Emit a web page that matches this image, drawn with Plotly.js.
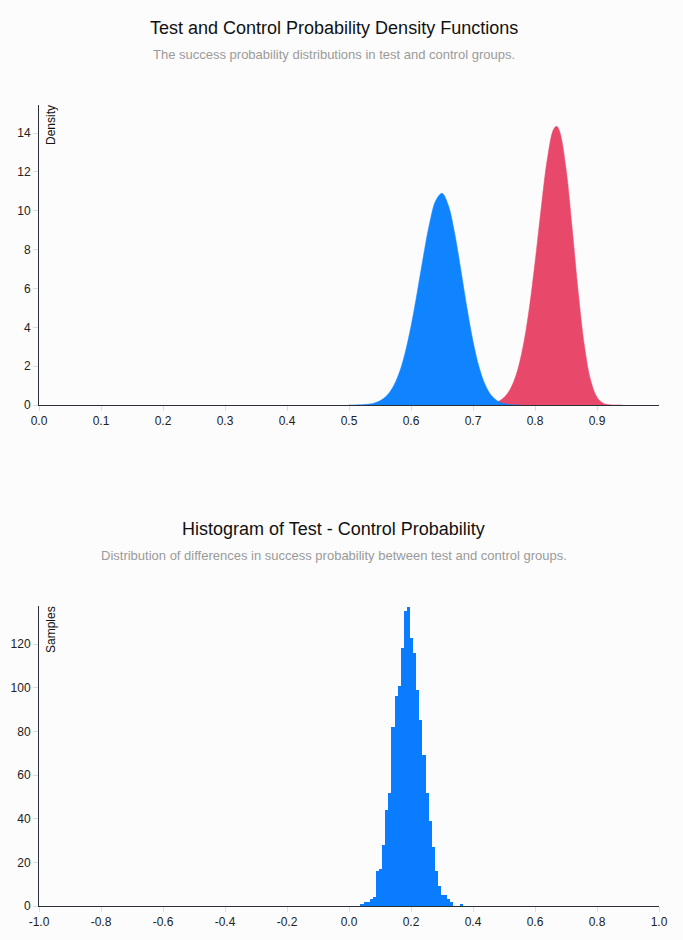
<!DOCTYPE html>
<html>
<head>
<meta charset="utf-8">
<script src="https://cdn.plot.ly/plotly-3.0.1.min.js"></script>
<style>
  html, body { margin: 0; padding: 0; background: #fcfcfc; }
  #chart { width: 683px; height: 940px; }
</style>
</head>
<body>
<div id="chart"></div>
<script>
// ---- Data ----
// Control group success probability density (blue)
const controlX = [0.50,0.51,0.52,0.53,0.54,0.55,0.56,0.57,0.58,0.59,0.60,0.61,0.62,0.63,0.64,0.65,0.66,0.67,0.68,0.69,0.70,0.71,0.72,0.73,0.74,0.75,0.76,0.77,0.78];
const controlDensity = [0.002,0.005,0.015,0.039,0.095,0.215,0.449,0.873,1.571,2.620,4.050,5.793,7.661,9.355,10.53,10.90,10.30,8.911,7.035,5.051,3.284,1.925,1.013,0.475,0.197,0.072,0.023,0.006,0];

// Test group success probability density (red)
const testX = [0.70,0.71,0.72,0.73,0.74,0.75,0.76,0.77,0.78,0.79,0.80,0.81,0.82,0.83,0.835,0.84,0.85,0.86,0.87,0.88,0.89,0.90,0.91,0.92,0.93,0.94];
const testDensity = [0.003,0.010,0.026,0.069,0.168,0.383,0.810,1.591,2.884,4.805,7.324,10.15,12.69,14.20,14.35,14.06,12.18,9.083,5.728,2.983,1.245,0.401,0.095,0.015,0.002,0];

// Histogram of test - control differences (bin centres, counts)
const diffBinCenters = [0.022,0.032,0.042,0.052,0.062,0.072,0.082,0.092,0.102,0.112,0.122,0.132,0.142,0.152,0.162,0.172,0.182,0.192,0.202,0.212,0.222,0.232,0.242,0.252,0.262,0.272,0.282,0.292,0.302,0.312,0.322,0.332,0.342,0.352,0.362];
const diffCounts = [0,0,1,2,2,3,4,16,17,28,44,52,82,96,101,118,135,137,123,116,99,85,69,52,39,27,16,9,5,5,3,2,0,0,1];
const diffBinWidth = 0.01;

// Tick labels
const densityXTicks = [0.0,0.1,0.2,0.3,0.4,0.5,0.6,0.7,0.8,0.9];
const densityXTickText = ["0.0","0.1","0.2","0.3","0.4","0.5","0.6","0.7","0.8","0.9"];
const densityYTicks = [0,2,4,6,8,10,12,14];
const histXTicks = [-1.0,-0.8,-0.6,-0.4,-0.2,0.0,0.2,0.4,0.6,0.8,1.0];
const histXTickText = ["-1.0","-0.8","-0.6","-0.4","-0.2","0.0","0.2","0.4","0.6","0.8","1.0"];
const histYTicks = [0,20,40,60,80,100,120];

// Text
const title1 = "Test and Control Probability Density Functions";
const subtitle1 = "The success probability distributions in test and control groups.";
const title2 = "Histogram of Test - Control Probability";
const subtitle2 = "Distribution of differences in success probability between test and control groups.";

// ---- Styling ----
const FONT = "'Liberation Sans', Arial, Helvetica, sans-serif";
const AXIS = "#2b2f3a";
const TICK = "#dddddd";
const BLUE = "#1083ff";
const RED = "#e8486a";
const BAR = "#0a7cff";
const H = 940;
const densityYMax = 15.45;
const histYMax = 137.6;

const traces = [
  { x: testX, y: testDensity, type: 'scatter', mode: 'lines', fill: 'tozeroy',
    line: { color: RED, width: 0.5, shape: 'spline' }, fillcolor: RED,
    xaxis: 'x', yaxis: 'y', hoverinfo: 'skip', name: 'Test' },
  { x: controlX, y: controlDensity, type: 'scatter', mode: 'lines', fill: 'tozeroy',
    line: { color: BLUE, width: 0.5, shape: 'spline' }, fillcolor: BLUE,
    xaxis: 'x', yaxis: 'y', hoverinfo: 'skip', name: 'Control' },
  { x: diffBinCenters, y: diffCounts, type: 'bar', width: diffBinWidth,
    marker: { color: BAR, line: { width: 0 } },
    xaxis: 'x2', yaxis: 'y2', hoverinfo: 'skip', name: 'Difference' }
];

function px2paper(py) { return 1 - py / H; }

const axisCommon = {
  showline: true, linecolor: AXIS, linewidth: 1,
  ticks: 'outside', ticklen: 5, tickwidth: 1, tickcolor: TICK,
  showgrid: false, zeroline: false, fixedrange: true,
  tickfont: { family: FONT, size: 12, color: '#222' }
};

function outerTicks(xa, ya, xmin, xmax, ymax) {
  const base = { type: 'line', line: { color: AXIS, width: 1 }, layer: 'above' };
  return [
    Object.assign({}, base, { xref: xa, yref: ya, xsizemode: 'pixel', xanchor: xmin, x0: -6, x1: 0, y0: 0, y1: 0 }),
    Object.assign({}, base, { xref: xa, yref: ya, xsizemode: 'pixel', xanchor: xmin, x0: -6, x1: 0, y0: ymax, y1: ymax }),
    Object.assign({}, base, { xref: xa, yref: ya, ysizemode: 'pixel', yanchor: 0, y0: 0, y1: -6, x0: xmin, x1: xmin }),
    Object.assign({}, base, { xref: xa, yref: ya, ysizemode: 'pixel', yanchor: 0, y0: 0, y1: -6, x0: xmax, x1: xmax })
  ];
}

const layout = {
  width: 683, height: 940,
  margin: { l: 39, r: 24, t: 0, b: 0 },
  paper_bgcolor: '#fcfcfc', plot_bgcolor: '#fcfcfc',
  showlegend: false,
  bargap: 0,
  font: { family: FONT },
  xaxis: Object.assign({}, axisCommon, { domain: [0, 1], anchor: 'y', range: [0, 1],
    tickmode: 'array', tickvals: densityXTicks, ticktext: densityXTickText }),
  yaxis: Object.assign({}, axisCommon, { domain: [px2paper(405), px2paper(105)], anchor: 'x', range: [0, densityYMax],
    tickmode: 'array', tickvals: densityYTicks }),
  xaxis2: Object.assign({}, axisCommon, { domain: [0, 1], anchor: 'y2', range: [-1, 1],
    tickmode: 'array', tickvals: histXTicks, ticktext: histXTickText }),
  yaxis2: Object.assign({}, axisCommon, { domain: [px2paper(906), px2paper(605.7)], anchor: 'x2', range: [0, histYMax],
    tickmode: 'array', tickvals: histYTicks }),
  shapes: outerTicks('x', 'y', 0, 1, densityYMax).concat(outerTicks('x2', 'y2', -1, 1, histYMax)),
  annotations: [
    { text: title1, xref: 'paper', yref: 'paper', x: 0.4758, y: px2paper(28.5), xanchor: 'center', yanchor: 'middle',
      showarrow: false, font: { family: FONT, size: 18, color: '#111' } },
    { text: subtitle1, xref: 'paper', yref: 'paper', x: 0.4758, y: px2paper(54.5), xanchor: 'center', yanchor: 'middle',
      showarrow: false, font: { family: FONT, size: 13, color: '#9a9a9a' } },
    { text: title2, xref: 'paper', yref: 'paper', x: 0.4758, y: px2paper(528.5), xanchor: 'center', yanchor: 'middle',
      showarrow: false, font: { family: FONT, size: 18, color: '#111' } },
    { text: subtitle2, xref: 'paper', yref: 'paper', x: 0.4758, y: px2paper(555.5), xanchor: 'center', yanchor: 'middle',
      showarrow: false, font: { family: FONT, size: 13, color: '#9a9a9a' } },
    { text: 'Density', xref: 'paper', yref: 'paper', x: (51 - 39) / 620, y: px2paper(125), xanchor: 'center', yanchor: 'middle',
      textangle: -90, showarrow: false, font: { family: FONT, size: 12, color: '#111' } },
    { text: 'Samples', xref: 'paper', yref: 'paper', x: (51 - 39) / 620, y: px2paper(630), xanchor: 'center', yanchor: 'middle',
      textangle: -90, showarrow: false, font: { family: FONT, size: 12, color: '#111' } }
  ]
};

Plotly.newPlot('chart', traces, layout, { displayModeBar: false, staticPlot: true });
</script>
</body>
</html>
